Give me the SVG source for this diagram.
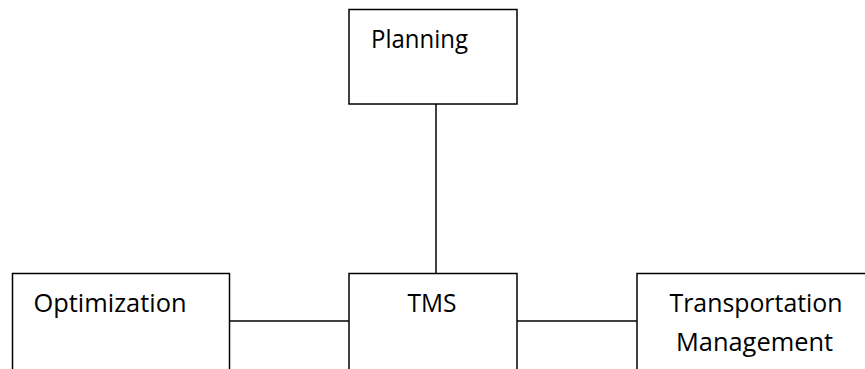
<svg xmlns="http://www.w3.org/2000/svg" width="865" height="369" viewBox="0 0 865 369">
<style>
.box{fill:#fff;stroke:#000;stroke-width:1.5}
.lbl{font-family:"Open Sans","Liberation Sans",sans-serif;font-size:25px;fill:#000}
.con{stroke:#000;stroke-width:1.5;fill:none}
</style>
<rect width="865" height="369" fill="#fff"/>
<g id="connectors">
<line class="con" x1="436" y1="104" x2="436" y2="273"/>
<line class="con" x1="229" y1="321" x2="349" y2="321"/>
<line class="con" x1="517" y1="321" x2="637" y2="321"/>
</g>
<g id="planning">
<rect class="box" x="349" y="9.5" width="168" height="94.5"/>
<text class="lbl" x="371" y="48" textLength="97" lengthAdjust="spacingAndGlyphs">Planning</text>
</g>
<g id="optimization">
<rect class="box" x="12.5" y="273.5" width="217" height="110"/>
<text class="lbl" x="33.5" y="312" textLength="153" lengthAdjust="spacingAndGlyphs">Optimization</text>
</g>
<g id="tms">
<rect class="box" x="349" y="273.5" width="168" height="110"/>
<text class="lbl" x="407.5" y="312" textLength="49" lengthAdjust="spacingAndGlyphs">TMS</text>
</g>
<g id="transportation">
<rect class="box" x="637" y="273.5" width="260" height="110"/>
<text class="lbl" x="669.5" y="311.5" textLength="173" lengthAdjust="spacingAndGlyphs">Transportation</text>
<text class="lbl" x="676" y="350.5" textLength="157" lengthAdjust="spacingAndGlyphs">Management</text>
</g>
</svg>
